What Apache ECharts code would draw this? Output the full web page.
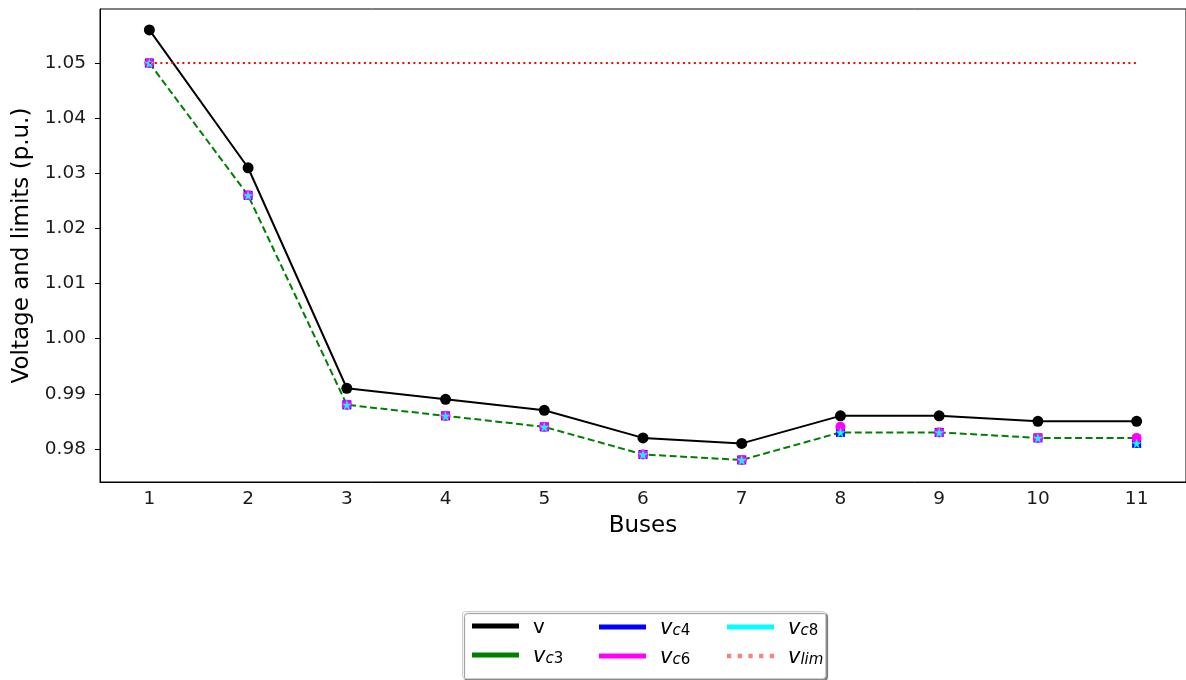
<!DOCTYPE html>
<html>
<head>
<meta charset="utf-8">
<title>Bus voltages</title>
<script src="https://cdn.jsdelivr.net/npm/echarts@6/dist/echarts.min.js"></script>
<style>
  html, body { margin: 0; padding: 0; background: #ffffff; }
  #chart { width: 1186px; height: 680px; }
</style>
</head>
<body>
<div id="chart"></div>
<script>
// Bus numbers along the feeder
const buses = ['1', '2', '3', '4', '5', '6', '7', '8', '9', '10', '11'];

// Voltage profiles (p.u.)
const vBase = [1.056, 1.031, 0.991, 0.989, 0.987, 0.982, 0.981, 0.986, 0.986, 0.985, 0.985];
const vC3 = [1.050, 1.026, 0.988, 0.986, 0.984, 0.979, 0.978, 0.983, 0.983, 0.982, 0.982];
const vC4 = [1.050, 1.026, 0.988, 0.986, 0.984, 0.979, 0.978, 0.983, 0.983, 0.982, 0.981];
const vC6 = [1.050, 1.026, 0.988, 0.986, 0.984, 0.979, 0.978, 0.984, 0.983, 0.982, 0.982];
const vC8 = [1.050, 1.026, 0.988, 0.986, 0.984, 0.979, 0.978, 0.983, 0.983, 0.982, 0.981];
const vLim = [1.05, 1.05, 1.05, 1.05, 1.05, 1.05, 1.05, 1.05, 1.05, 1.05, 1.05];

// Y tick values
const yTicks = [0.98, 0.99, 1.00, 1.01, 1.02, 1.03, 1.04, 1.05];

const FONT = 'DejaVu Sans';
const STAR = 'path://M50,0 L61,35 L98,35 L68,57 L79,91 L50,70 L21,91 L32,57 L2,35 L39,35 Z';
const DOTS = 'path://M0,0h4v4h-4z M10,0h4v4h-4z M20,0h4v4h-4z M30,0h4v4h-4z M40,0h4v4h-4z';

function legendLabel(name) {
  if (name === 'v') return '{g|}{n|v}';
  const sub = name.slice(1);
  if (sub === 'lim') return '{g|}{i|v}{s|lim}';
  return '{g|}{i|v}{s|' + sub[0] + '}{d|' + sub.slice(1) + '}';
}

// Legend labels: italic v with a lowered, smaller subscript
const legendRich = {
  g: { width: 9, lineHeight: 24 },
  n: { fontFamily: FONT, fontSize: 20, color: '#000', lineHeight: 24, verticalAlign: 'bottom' },
  i: { fontFamily: FONT, fontSize: 21, fontStyle: 'italic', color: '#000', lineHeight: 24, verticalAlign: 'bottom' },
  s: { fontFamily: FONT, fontSize: 15, fontStyle: 'italic', color: '#000', lineHeight: 12, verticalAlign: 'bottom' },
  d: { fontFamily: FONT, fontSize: 15, color: '#000', lineHeight: 12, verticalAlign: 'bottom' }
};

function makeLegend(left, items) {
  return {
    orient: 'vertical',
    left: left,
    top: 613,
    itemWidth: 47,
    itemHeight: 5,
    itemGap: 8,
    selectedMode: false,
    icon: 'rect',
    formatter: legendLabel,
    textStyle: { rich: legendRich },
    data: items
  };
}

const chart = echarts.init(document.getElementById('chart'), null, { renderer: 'canvas' });

chart.setOption({
  animation: false,
  backgroundColor: '#ffffff',
  grid: {
    left: 100,
    top: 9,
    width: 1089,
    height: 473,
    show: true,
    borderColor: '#000',
    borderWidth: 1,
    backgroundColor: 'transparent'
  },
  xAxis: {
    type: 'category',
    data: buses,
    boundaryGap: true,
    name: 'Buses',
    nameLocation: 'middle',
    nameGap: 33,
    nameTextStyle: { fontFamily: FONT, fontSize: 23, color: '#000' },
    axisLine: { lineStyle: { color: '#000', width: 1 } },
    axisTick: { alignWithLabel: true, length: 5, lineStyle: { color: '#000' } },
    axisLabel: { fontFamily: FONT, fontSize: 18.5, color: '#1a1a1a', margin: 8 },
    splitLine: { show: false }
  },
  yAxis: {
    type: 'value',
    min: 0.974,
    max: 1.0598,
    name: 'Voltage and limits (p.u.)',
    nameLocation: 'middle',
    nameGap: 63,
    nameTextStyle: { fontFamily: FONT, fontSize: 23, color: '#000' },
    axisLine: { show: true, lineStyle: { color: '#000', width: 1 } },
    axisTick: { show: true, length: 5, lineStyle: { color: '#000' }, customValues: yTicks },
    axisLabel: {
      fontFamily: FONT, fontSize: 18.5, color: '#1a1a1a', margin: 14,
      customValues: yTicks,
      formatter: function (val) { return val.toFixed(2); }
    },
    splitLine: { show: false }
  },
  legend: [
    makeLegend(467, [{ name: 'v' }, { name: 'vc3' }]),
    makeLegend(594, [{ name: 'vc4' }, { name: 'vc6' }]),
    makeLegend(722, [{ name: 'vc8' }, { name: 'vlim', icon: DOTS, itemStyle: { color: '#ff7f7f' } }])
  ],
  graphic: [{
    type: 'rect',
    z: -1,
    shape: { x: 462.5, y: 611.5, width: 363, height: 67, r: 3 },
    style: {
      fill: '#ffffff',
      stroke: '#cccccc',
      lineWidth: 1,
      shadowColor: 'rgba(0,0,0,0.45)',
      shadowOffsetX: 2,
      shadowOffsetY: 2,
      shadowBlur: 1
    }
  }],
  series: [
    {
      name: 'v', type: 'line', data: vBase, z: 2,
      symbol: 'circle', symbolSize: 11, showAllSymbol: true,
      itemStyle: { color: '#000000' },
      lineStyle: { color: '#000000', width: 2 }
    },
    {
      name: 'vc3', type: 'line', data: vC3, z: 3,
      showSymbol: false, symbol: 'none',
      itemStyle: { color: '#008000' },
      lineStyle: { color: '#008000', width: 2, type: [7, 3.5] }
    },
    {
      name: 'vc4', type: 'line', data: vC4, z: 4,
      symbol: 'rect', symbolSize: 9, showAllSymbol: true,
      itemStyle: { color: '#0000ff' },
      lineStyle: { width: 0, opacity: 0 }
    },
    {
      name: 'vc6', type: 'line', data: vC6, z: 5,
      symbol: 'circle', symbolSize: 10, showAllSymbol: true,
      itemStyle: { color: '#ff00ff' },
      lineStyle: { width: 0, opacity: 0 }
    },
    {
      name: 'vc8', type: 'line', data: vC8, z: 6,
      symbol: STAR, symbolSize: 10, showAllSymbol: true,
      itemStyle: { color: '#00ffff' },
      lineStyle: { width: 0, opacity: 0 }
    },
    {
      name: 'vlim', type: 'line', data: vLim, z: 7,
      symbol: 'none',
      itemStyle: { color: '#ff0000' },
      lineStyle: { color: '#ff0000', width: 2, type: [2, 3.5] }
    }
  ]
});
</script>
</body>
</html>
